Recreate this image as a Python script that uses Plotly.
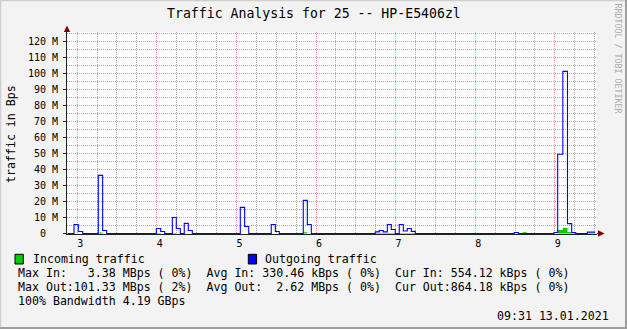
import plotly.graph_objects as go

# ---------------- data (values in M Bytes/s, x in axis units) ----------------
out_t = [2.880, 2.960, 3.014, 3.069, 3.265, 3.320, 3.371, 3.994, 4.049, 4.099,
         4.195, 4.245, 4.295, 4.345, 4.396, 4.446, 5.049, 5.104, 5.155, 5.438,
         5.489, 5.539, 5.840, 5.891, 5.941, 6.745, 6.795, 6.845, 6.896, 6.946,
         6.996, 7.046, 7.097, 7.147, 7.197, 7.247, 8.491, 8.541, 8.990, 9.036,
         9.101, 9.159, 9.212, 9.263, 9.409, 9.507]
out_v = [0, 5.6, 1.25, 0, 36.3, 1.9, 0, 3.1, 1.25, 0,
         10.0, 3.1, 0, 6.3, 1.9, 0, 16.3, 4.4, 0, 5.6,
         1.25, 0, 20.7, 5.6, 0, 1.0, 1.9, 1.0, 5.6, 2.5,
         0, 5.6, 1.6, 3.1, 1.3, 0, 0.6, 0, 0.6, 49.5,
         101.33, 6.2, 0.6, 0, 0.86, 0.86]

in_t = [2.880, 3.265, 3.320, 3.994, 4.049, 4.195, 4.245, 5.840, 5.891, 6.745,
        7.247, 8.596, 8.648, 9.036, 9.101, 9.159, 9.212, 9.263, 9.409, 9.507]
in_v = [0, 0.7, 0, 0.3, 0, 0.3, 0, 0.8, 0, 0.3,
        0, 0.8, 0, 2.2, 3.38, 1.0, 0.4, 0, 0.3, 0.3]

x_ticks = [3, 4, 5, 6, 7, 8, 9]
y_ticks = [0, 10, 20, 30, 40, 50, 60, 70, 80, 90, 100, 110, 120]
y_labels = ["0\u00a0\u00a0"] + [f"{v} M" for v in y_ticks[1:]]

title = "Traffic Analysis for 25 -- HP-E5406zl"
legend_in = "Incoming traffic"
legend_out = "Outgoing traffic"
stat_lines = [
    "Max In:   3.38 MBps ( 0%)  Avg In: 330.46 kBps ( 0%)  Cur In: 554.12 kBps ( 0%)",
    "Max Out:101.33 MBps ( 2%)  Avg Out:  2.62 MBps ( 0%)  Cur Out:864.18 kBps ( 0%)",
    "100% Bandwidth 4.19 GBps",
]
stamp = "09:31 13.01.2021"
watermark = "RRDTOOL / TOBI OETIKER"

# ---------------- layout geometry (pixels) ----------------
W, H = 627, 329
X0, X1 = 67, 597          # plot area left/right
Y0, Y1 = 32, 234          # plot area top/bottom

def px(x):
    return (x - X0) / (X1 - X0)

def py(y):
    return (Y1 - y) / (Y1 - Y0)

def nb(s):
    return s.replace(" ", "\u00a0")

MONO = "DejaVu Sans Mono"
GREEN = "#00CC00"
BLUE = "#0000FF"
BG = "#F3F3F3"
MAJ = "#EB9696"
MIN = "#ABABAB"
AXIS = "#212121"
ARROW = "#800000"

fig = go.Figure()
fig.add_trace(go.Scatter(x=in_t, y=in_v, mode="lines", line=dict(shape="hv", width=0, color=GREEN),
                         fill="tozeroy", fillcolor=GREEN, hoverinfo="skip", showlegend=False))
fig.add_trace(go.Scatter(x=out_t, y=out_v, mode="lines", line=dict(shape="hv", width=1.1, color=BLUE),
                         hoverinfo="skip", showlegend=False))

fig.update_layout(
    width=W, height=H,
    margin=dict(l=X0, r=W - X1, t=Y0, b=H - Y1, pad=0),
    paper_bgcolor=BG, plot_bgcolor="#FFFFFF",
    showlegend=False,
    font=dict(family=MONO, size=10, color="#000000"),
)

fig.update_xaxes(
    range=[2.872, 9.53], tickvals=x_ticks, ticktext=[str(v) for v in x_ticks],
    showgrid=True, gridcolor=MAJ, griddash="1px,1px", gridwidth=1,
    minor=dict(dtick=0.25, tick0=0, showgrid=True, gridcolor=MIN, griddash="1px,1px", gridwidth=1),
    showline=True, linecolor=AXIS, linewidth=1, ticks="", zeroline=False,
    tickfont=dict(family=MONO, size=10, color="#000000"),
    ticklabelshift=3, layer="below traces", fixedrange=True,
)
fig.update_yaxes(
    range=[-0.3125, 125.9375], tickvals=y_ticks, ticktext=y_labels,
    showgrid=True, gridcolor=MAJ, griddash="1px,1px", gridwidth=1,
    minor=dict(dtick=5, tick0=0, showgrid=True, gridcolor=MIN, griddash="1px,1px", gridwidth=1),
    showline=True, linecolor=AXIS, linewidth=1, ticks="outside", ticklen=3, tickcolor=AXIS,
    zeroline=False, tickfont=dict(family=MONO, size=10, color="#000000"),
    ticklabelstandoff=3, layer="below traces", fixedrange=True,
)

shapes = []
# 3D frame
shapes.append(dict(type="line", xref="paper", yref="paper", x0=px(0), x1=px(W), y0=py(0.5), y1=py(0.5),
                   line=dict(color="#CFCFCF", width=1.5)))
shapes.append(dict(type="line", xref="paper", yref="paper", x0=px(0.5), x1=px(0.5), y0=py(0), y1=py(H),
                   line=dict(color="#CFCFCF", width=1.5)))
shapes.append(dict(type="line", xref="paper", yref="paper", x0=px(0), x1=px(W), y0=py(H - 1), y1=py(H - 1),
                   line=dict(color="#9E9E9E", width=2)))
shapes.append(dict(type="line", xref="paper", yref="paper", x0=px(W - 1), x1=px(W - 1), y0=py(0), y1=py(H),
                   line=dict(color="#9E9E9E", width=2)))
# axis arrows
shapes.append(dict(type="line", xref="paper", yref="paper", x0=px(X1), x1=px(599), y0=py(233.5), y1=py(233.5),
                   line=dict(color=AXIS, width=1)))
shapes.append(dict(type="path", xref="paper", yref="paper",
                   path=f"M {px(598)},{py(230.3)} L {px(598)},{py(236.8)} L {px(604.5)},{py(233.5)} Z",
                   fillcolor=ARROW, line=dict(width=0)))
shapes.append(dict(type="path", xref="paper", yref="paper",
                   path=f"M {px(63.8)},{py(32)} L {px(70.2)},{py(32)} L {px(67)},{py(25.5)} Z",
                   fillcolor=ARROW, line=dict(width=0)))
# legend swatches
shapes.append(dict(type="rect", xref="paper", yref="paper", x0=px(15), x1=px(23.3), y0=py(264), y1=py(254.3),
                   fillcolor=GREEN, line=dict(color="#000000", width=1)))
shapes.append(dict(type="rect", xref="paper", yref="paper", x0=px(248.3), x1=px(256.6), y0=py(264), y1=py(254.3),
                   fillcolor=BLUE, line=dict(color="#000000", width=1)))
fig.update_layout(shapes=shapes)

LEG = 11.6
ann = []
ann.append(dict(text=nb(title), x=px(313.5), y=py(13.5), xref="paper", yref="paper",
                xanchor="center", yanchor="middle", showarrow=False,
                font=dict(family=MONO, size=13.2, color="#000000")))
ann.append(dict(text=nb("traffic in Bps"), x=px(11), y=py(134), xref="paper", yref="paper",
                xanchor="center", yanchor="middle", showarrow=False, textangle=-90,
                font=dict(family=MONO, size=LEG, color="#000000")))
ann.append(dict(text=nb(watermark), x=px(617.5), y=py(58), xref="paper", yref="paper",
                xanchor="center", yanchor="middle", showarrow=False, textangle=90,
                font=dict(family=MONO, size=8.3, color="#ABABAB")))
ann.append(dict(text=nb(legend_in), x=px(30.5), y=py(259), xref="paper", yref="paper",
                xanchor="left", yanchor="middle", showarrow=False,
                font=dict(family=MONO, size=LEG, color="#000000")))
ann.append(dict(text=nb(legend_out), x=px(263.2), y=py(259), xref="paper", yref="paper",
                xanchor="left", yanchor="middle", showarrow=False,
                font=dict(family=MONO, size=LEG, color="#000000")))
for i, line in enumerate(stat_lines):
    ann.append(dict(text=nb(line), x=px(15.7), y=py(273.3 + 14 * i), xref="paper", yref="paper",
                    xanchor="left", yanchor="middle", showarrow=False,
                    font=dict(family=MONO, size=LEG, color="#000000")))
ann.append(dict(text=nb(stamp), x=px(610.5), y=py(315.7), xref="paper", yref="paper",
                xanchor="right", yanchor="middle", showarrow=False,
                font=dict(family=MONO, size=LEG, color="#000000")))
fig.update_layout(annotations=ann)

fig.write_html("out.html", config={"displayModeBar": False})
